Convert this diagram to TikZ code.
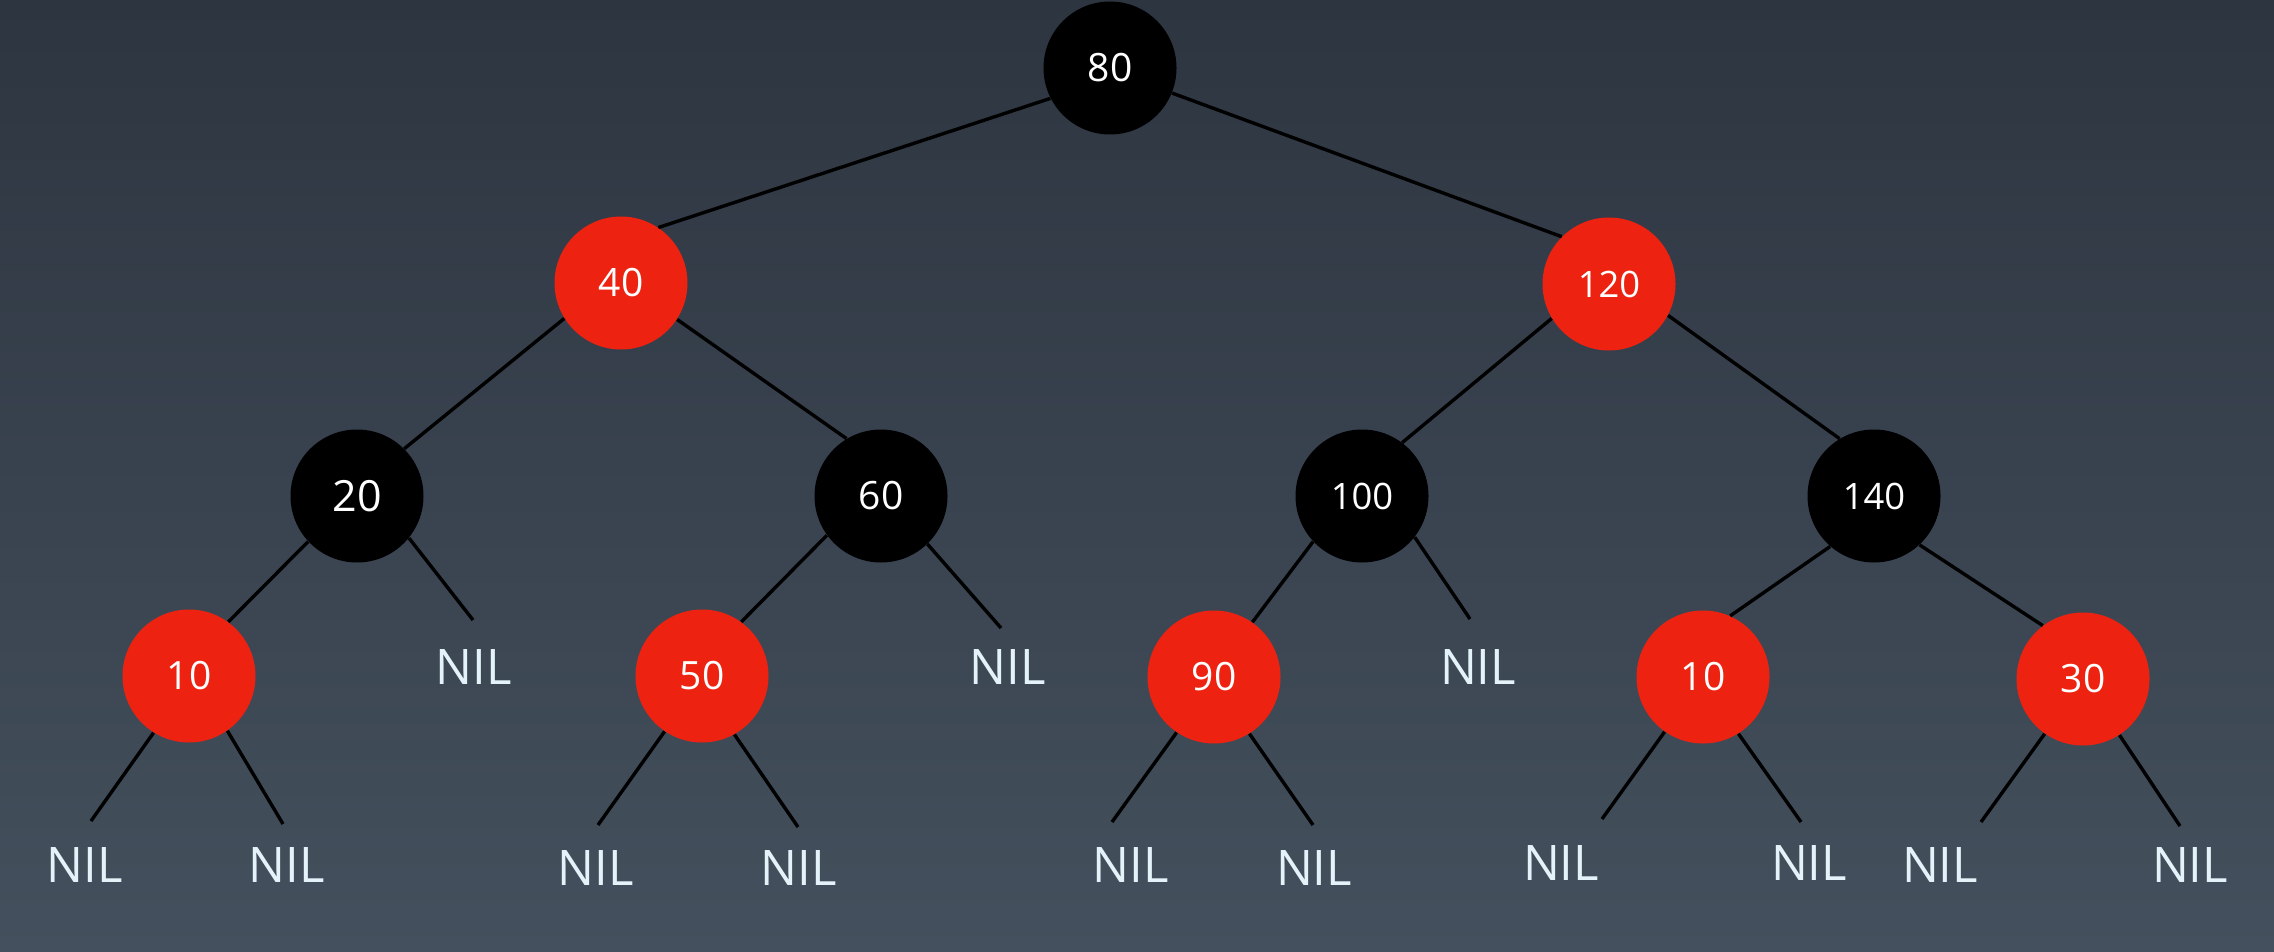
\documentclass[tikz,border=0pt]{standalone}
\usepackage{fontspec}
\setmainfont{Open Sans}
\definecolor{bgtop}{RGB}{45,53,64}
\definecolor{bgbot}{RGB}{68,80,93}
\definecolor{rbred}{RGB}{238,34,16}
\definecolor{nilc}{RGB}{228,242,249}
\begin{document}
\begin{tikzpicture}[x=0.5pt,y=-0.5pt,
  rbnode/.style={circle, minimum size=66.5pt, inner sep=0pt, text=white, font=\fontsize{19.5}{20}\selectfont},
  blk/.style={rbnode, fill=black},
  rd/.style={rbnode, fill=rbred},
  wide/.style={font=\fontsize{18.2}{20}\selectfont},
  big/.style={font=\fontsize{21.5}{22}\selectfont},
  nil/.style={text=nilc, inner sep=0pt, font=\fontsize{24.5}{26}\selectfont},
  edge/.style={line width=1.7pt, draw=black}]
\shade[top color=bgtop, bottom color=bgbot] (0,0) rectangle (2274,952);
\useasboundingbox (0,0) rectangle (2274,952);

% tree nodes
\node[blk] (n80) at (1110,68) {80};
\node[rd] (n40) at (621,283) {40};
\node[rd, wide] (n120) at (1609,284) {120};
\node[blk, big] (n20) at (357,496) {20};
\node[blk] (n60) at (881,496) {60};
\node[blk, wide] (n100) at (1362,496) {100};
\node[blk, wide] (n140) at (1874,496) {140};
\node[rd] (n10) at (189,676) {10};
\node[rd] (n50) at (702,676) {50};
\node[rd] (n90) at (1214,677) {90};
\node[rd] (n10b) at (1703,677) {10};
\node[rd] (n30) at (2083,679) {30};

% NIL leaves
\node[nil] (nilA) at (474,667) {NIL};
\node[nil] (nilB) at (1008,667) {NIL};
\node[nil] (nilC) at (1478,667) {NIL};
\node[nil] (nil1) at (85,865) {NIL};
\node[nil] (nil2) at (287,865) {NIL};
\node[nil] (nil3) at (596,868) {NIL};
\node[nil] (nil4) at (799,868) {NIL};
\node[nil] (nil5) at (1131,865) {NIL};
\node[nil] (nil6) at (1314,868) {NIL};
\node[nil] (nil7) at (1561,863) {NIL};
\node[nil] (nil8) at (1809,863) {NIL};
\node[nil] (nil9) at (1940,865) {NIL};
\node[nil] (nil10) at (2190,865) {NIL};

% free ends of the leaf connectors
\coordinate (eA) at (473,620);
\coordinate (eB) at (1001,628);
\coordinate (eC) at (1470,619);
\coordinate (e1) at (91,821);
\coordinate (e2) at (283,824);
\coordinate (e3) at (598,825);
\coordinate (e4) at (798,827);
\coordinate (e5) at (1112,822);
\coordinate (e6) at (1313,825);
\coordinate (e7) at (1602,819);
\coordinate (e8) at (1801,822);
\coordinate (e9) at (1981,822);
\coordinate (e10) at (2180,826);

% edges
\draw[edge] (n80.207) -- (n40.56);
\draw[edge] (n80.338) -- (n120.135);
\draw[edge] (n40.212) -- (n20.45);
\draw[edge] (n40.327) -- (n60.121);
\draw[edge] (n120.211) -- (n100.53);
\draw[edge] (n120.332) -- (n140.121);
\draw[edge] (n20.223) -- (n10.54);
\draw[edge] (n20.321) -- (eA);
\draw[edge] (n60.216) -- (n50.54);
\draw[edge] (n60.314) -- (eB);
\draw[edge] (n100.223) -- (n90.55);
\draw[edge] (n100.322) -- (eC);
\draw[edge] (n140.229) -- (n10b.66);
\draw[edge] (n140.313) -- (n30.127);
\draw[edge] (n10.238) -- (e1);
\draw[edge] (n10.305) -- (e2);
\draw[edge] (n50.236) -- (e3);
\draw[edge] (n50.299) -- (e4);
\draw[edge] (n90.236) -- (e5);
\draw[edge] (n90.302) -- (e6);
\draw[edge] (n10b.235) -- (e7);
\draw[edge] (n10b.302) -- (e8);
\draw[edge] (n30.235) -- (e9);
\draw[edge] (n30.303) -- (e10);
\end{tikzpicture}
\end{document}
